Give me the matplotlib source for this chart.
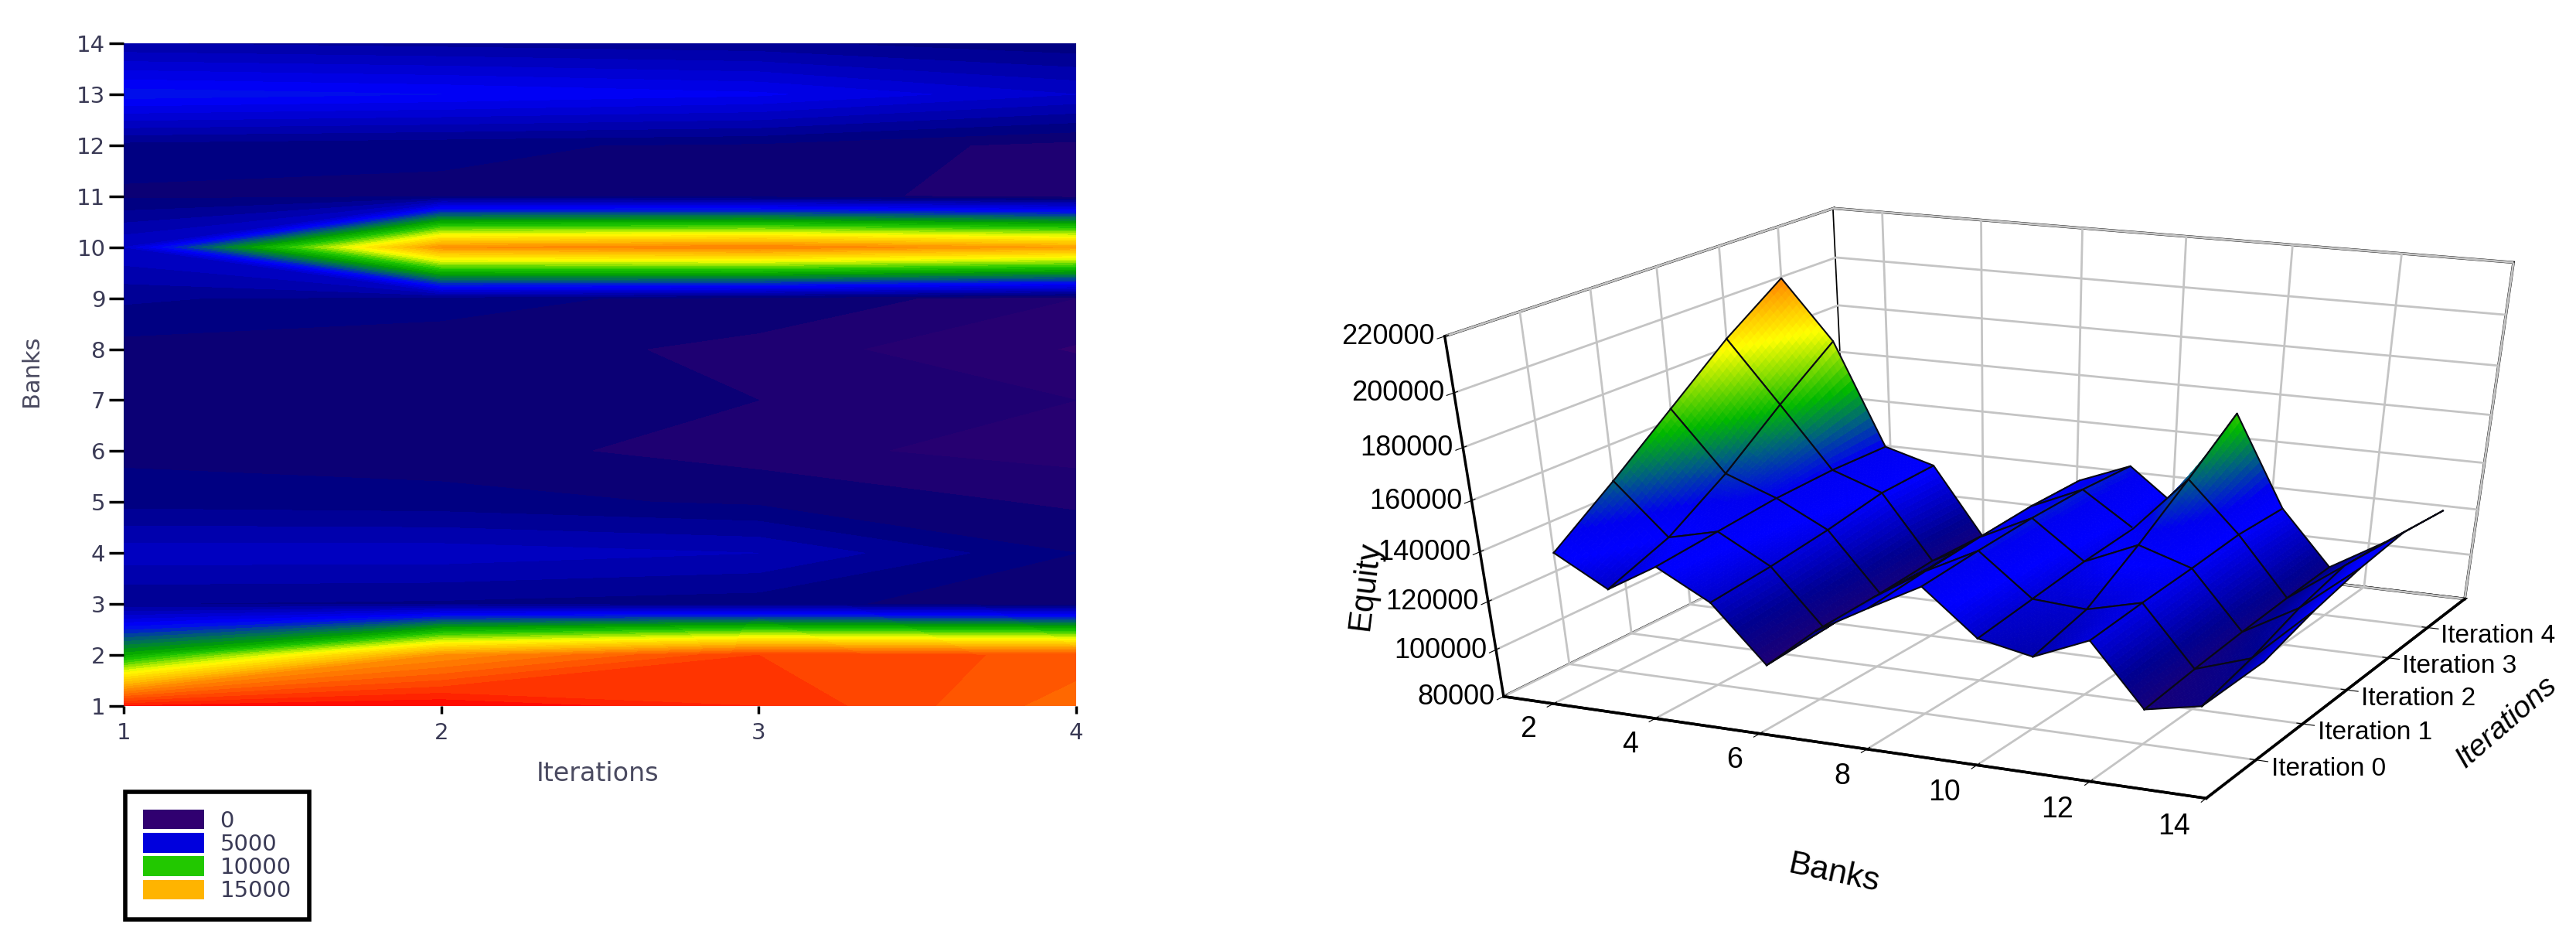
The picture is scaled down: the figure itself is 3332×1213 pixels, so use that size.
import numpy as np, matplotlib
matplotlib.use('Agg')
import matplotlib.pyplot as plt
from matplotlib.colors import LinearSegmentedColormap
from matplotlib.patches import Patch
from mpl_toolkits.mplot3d import proj3d
from mpl_toolkits.mplot3d.art3d import Poly3DCollection

# ---------- data ----------
contour_iterations = [1, 2, 3, 4]
contour_banks = list(range(1, 15))
contour_values = [
    [19500, 20000, 19000, 17200],  # bank 1
    [8800, 16000, 18500, 17800],
    [2000, 1900, 1700, 1100],
    [3300, 3300, 3000, 1500],
    [1800, 1700, 1400, 900],
    [1350, 1200, 770, 595],
    [1300, 1150, 1000, 700],
    [1300, 1250, 860, 370],
    [2100, 1700, 1300, 700],
    [3500, 16000, 16500, 15500],
    [1400, 1400, 1250, 700],
    [1800, 1600, 1400, 800],
    [5300, 5000, 4600, 3500],
    [2500, 2300, 2100, 1600],
]
legend_labels = ['0', '5000', '10000', '15000']
legend_colors = ['#300070', '#0000dd', '#22c800', '#ffb400']

surface_banks = list(range(1, 15))
surface_iterations = [0, 1, 2, 3, 4]
iteration_labels = ['Iteration 0', 'Iteration 1', 'Iteration 2', 'Iteration 3', 'Iteration 4']
equity_ticks = [80000, 100000, 120000, 140000, 160000, 180000, 200000, 220000]
bank_ticks = [2, 4, 6, 8, 10, 12, 14]
equity = [
    [127500, 145500, 164500, 183500, 199500],
    [115000, 124500, 140000, 158500, 175500],
    [127000, 129500, 132000, 133000, 132500],
    [115000, 117500, 121000, 125500, 126500],
    [91500, 93500, 96000, 98000, 97500],
    [109000, 110000, 110000, 109500, 108000],
    [121000, 123500, 125500, 127000, 127000],
    [132500, 134500, 136000, 136500, 135500],
    [114500, 117500, 120500, 122500, 119500],
    [110000, 116000, 130000, 145500, 162000],
    [119500, 121500, 123000, 125000, 124500],
    [94500, 97000, 99000, 100500, 101500],
    [99000, 104500, 112000, 117000, 115000],
    [120000, 126500, 131000, 133500, 131000],
]

# ---------- figure ----------
W, H = 3332, 1213
plt.rcParams['font.family'] = ['Liberation Sans', 'DejaVu Sans']
plt.rcParams['grid.color'] = '#c4c4c4'
plt.rcParams['grid.linewidth'] = 2.0
fig = plt.figure(figsize=(W / 100, H / 100), dpi=100, facecolor='white')

def box(x0, y0, x1, y1):
    return [x0 / W, 1 - y1 / H, (x1 - x0) / W, (y1 - y0) / H]

# ---------- left: filled contour ----------
stops = [(0, '#3a0070'), (1000, '#160072'), (1500, '#000078'), (3000, '#0000b8'), (5000, '#0000ff'),
         (7000, '#006a60'), (8500, '#00a000'), (10000, '#20c800'), (12500, '#ffff00'),
         (15000, '#ffb400'), (17500, '#ff6000'), (19200, '#ff2800'), (20000, '#ff0000')]
cmap = LinearSegmentedColormap.from_list('c', [(v / 20000, c) for v, c in stops])
levels = [0, 400, 700, 1000, 1500, 2000, 2500, 3000, 3500, 4000, 4500, 5000] + list(range(5500, 20501, 500))
axl = fig.add_axes(box(160, 56, 1392, 913))
axl.contourf(contour_iterations, contour_banks, np.array(contour_values), levels=levels,
             colors=[cmap(0.5 * (a + b) / 20000) for a, b in zip(levels[:-1], levels[1:])])
axl.set_xticks(contour_iterations)
axl.set_yticks(contour_banks)
for s in axl.spines.values():
    s.set_visible(False)
tc = '#3a3a55'
axl.tick_params(axis='y', length=14, width=2.5, color='black', labelsize=21, labelcolor=tc, pad=3)
axl.tick_params(axis='x', length=7, width=2.5, color='black', labelsize=21, labelcolor=tc, pad=8)
for t in axl.get_xticklabels() + axl.get_yticklabels():
    t.set_family('DejaVu Sans')
fig.text(773 / W, 1 - 1000 / H, 'Iterations', ha='center', va='center', fontsize=24, color='#4a4a60', family='DejaVu Sans')
fig.text(40 / W, 1 - 480 / H, 'Banks', ha='center', va='center', rotation=90, fontsize=22, color='#4a4a60', family='DejaVu Sans')
leg = fig.legend(handles=[Patch(facecolor=c, edgecolor='none', label=l) for c, l in zip(legend_colors, legend_labels)],
                 loc='upper left', bbox_to_anchor=(162 / W, 1 - 1024 / H), borderaxespad=0, fancybox=False,
                 edgecolor='black', framealpha=1, prop={'family': 'DejaVu Sans', 'size': 21},
                 handlelength=2.7, handleheight=0.95, handletextpad=0.7, labelspacing=0.05, borderpad=0.8)
leg.get_frame().set_linewidth(4)
for t in leg.get_texts():
    t.set_color(tc)

# ---------- right: 3-D surface ----------
# axes rectangle fitted to the reference frame: not square, so keep it as given
ax_x0, ax_w, ax_y0, ax_h = 1739.9, 1663.7, 158.67, 842.6
ax = fig.add_axes([ax_x0 / W, ax_y0 / H, ax_w / W, ax_h / H], projection='3d', computed_zorder=False)
ax.apply_aspect = lambda position=None: None
ax.patch.set_alpha(0)
ax.view_init(27.961, -65.053)
ax.set_proj_type('persp', focal_length=0.495)
ax.set_box_aspect((1, 0.996, 1.019))
ax.set_xlim(1, 14); ax.set_ylim(-1, 5); ax.set_zlim(80000, 220000)
ax.set_xticks(bank_ticks)
ax.set_xticklabels([str(v) for v in bank_ticks], ha='right', va='center', fontsize=27)
ax.set_yticks(surface_iterations)
ax.set_yticklabels(iteration_labels, ha='left', va='center', fontsize=24)
ax.set_zticks(equity_ticks)
ax.set_zticklabels([str(v) for v in equity_ticks], fontsize=26, ha='right', va='center')
ax.tick_params(axis='x', pad=15)
ax.tick_params(axis='y', pad=2)
ax.tick_params(axis='z', pad=-4)
for a in (ax.xaxis, ax.yaxis, ax.zaxis):
    a.set_pane_color((1, 1, 1, 1))
    a.pane.set_edgecolor('black')
    a.pane.set_linewidth(2.5)
    a.line.set_color('black')
    a.line.set_linewidth(2.5)
ax.zaxis.set_ticks_position('lower')

sstops = [(85000, '#300070'), (95000, '#15007a'), (105000, '#000090'), (125000, '#0000ff'), (133000, '#0000f0'),
          (145000, '#006080'), (157000, '#00b800'), (170000, '#90e000'), (180000, '#ffff00'),
          (190000, '#ffc000'), (200000, '#ff8000'), (220000, '#ff0000')]
lo, hi = sstops[0][0], sstops[-1][0]
scmap = LinearSegmentedColormap.from_list('s', [((v - lo) / (hi - lo), c) for v, c in sstops])
M = ax.get_proj()
Z = np.array(equity, float)
B = np.array(surface_banks, float)
I = np.array(surface_iterations, float)
cells = []
for i in range(len(B) - 1):
    for j in range(len(I) - 1):
        cx = np.array([B[i], B[i + 1], B[i + 1], B[i]])
        cy = np.array([I[j], I[j], I[j + 1], I[j + 1]])
        cz = np.array([Z[i, j], Z[i + 1, j], Z[i + 1, j + 1], Z[i, j + 1]])
        _, _, tz = proj3d.proj_transform(cx, cy, cz, M)
        cells.append((np.mean(tz), i, j))
cells.sort(key=lambda c: -c[0])
n = 14
w = np.linspace(0, 1, n + 1)
for rank, (_, i, j) in enumerate(cells):
    U, Vv = np.meshgrid(w, w, indexing='ij')
    PX = B[i] + U * (B[i + 1] - B[i])
    PY = I[j] + Vv * (I[j + 1] - I[j])
    PZ = (1 - U) * (1 - Vv) * Z[i, j] + U * (1 - Vv) * Z[i + 1, j] + U * Vv * Z[i + 1, j + 1] + (1 - U) * Vv * Z[i, j + 1]
    polys, cols = [], []
    for a in range(n):
        for b in range(n):
            idx = [(a, b), (a + 1, b), (a + 1, b + 1), (a, b + 1)]
            polys.append([(PX[p], PY[p], PZ[p]) for p in idx])
            cols.append(scmap((np.mean([PZ[p] for p in idx]) - lo) / (hi - lo)))
    pc = Poly3DCollection(polys, facecolors=cols, edgecolors=cols, linewidths=0.6, zorder=10 + 2 * rank)
    ax.add_collection3d(pc, autolim=False)
    ax.plot([B[i], B[i + 1], B[i + 1], B[i], B[i]], [I[j], I[j], I[j + 1], I[j + 1], I[j]],
            [Z[i, j], Z[i + 1, j], Z[i + 1, j + 1], Z[i, j + 1], Z[i, j]],
            color='#0a0a14', lw=1.5, zorder=11 + 2 * rank, scalex=False, scaley=False)
ax.set_xlim(1, 14); ax.set_ylim(-1, 5); ax.set_zlim(80000, 220000)

fig.text(1766 / W, 1 - 757 / H, 'Equity', rotation=83, ha='center', va='center', fontsize=30)
fig.text(2372 / W, 1 - 1130 / H, 'Banks', rotation=-12, ha='center', va='center', fontsize=31)
fig.text(3242 / W, 1 - 934 / H, 'Iterations', rotation=41, ha='center', va='center', fontsize=28, style='italic')

fig.savefig('out.png', dpi=100)
